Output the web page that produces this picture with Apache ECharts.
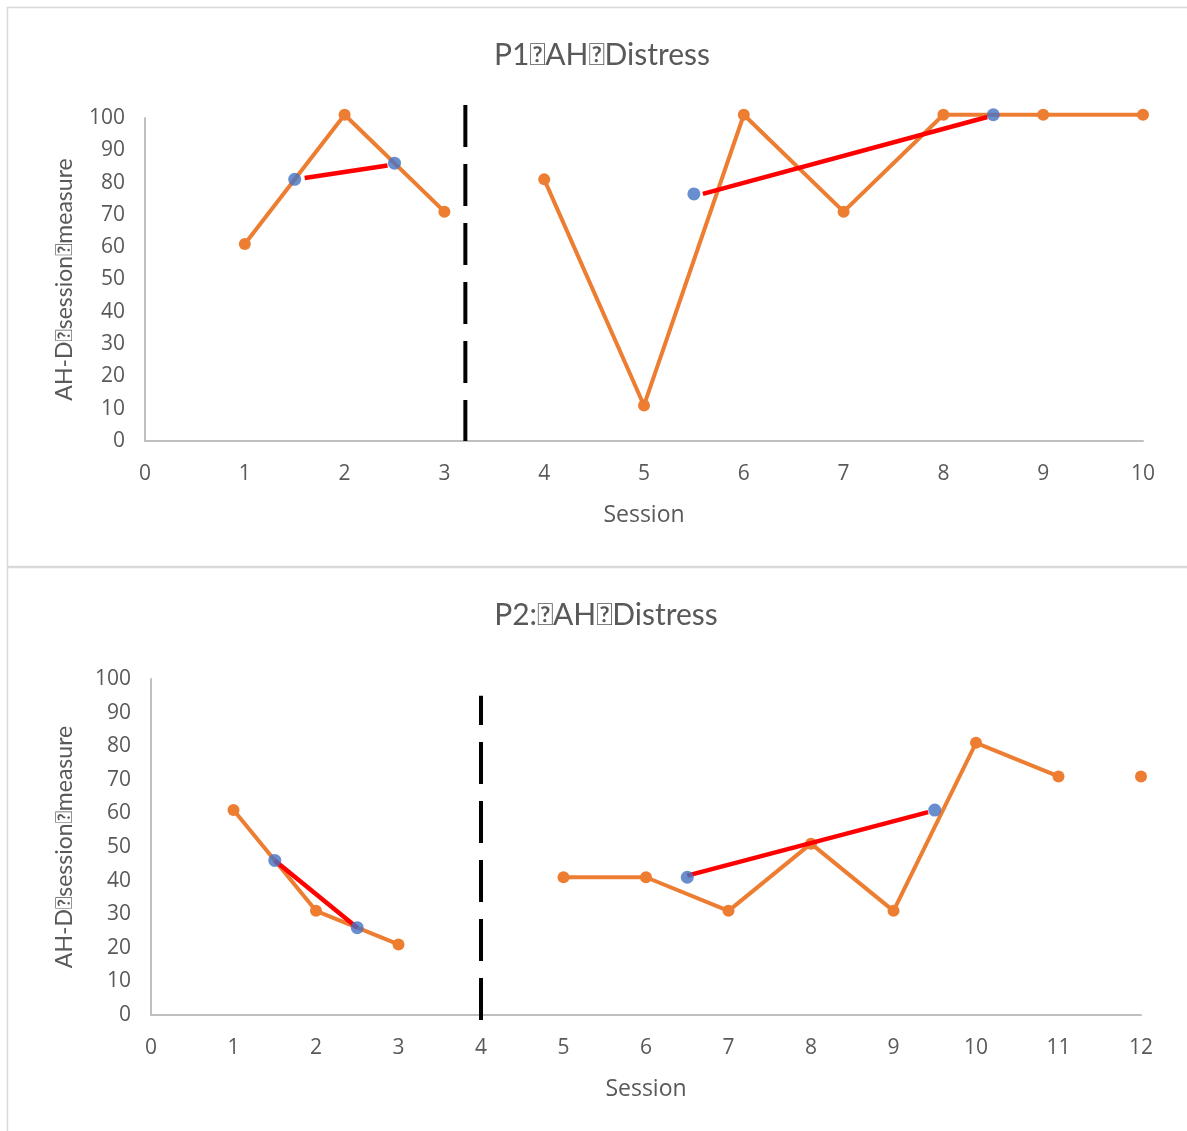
<!DOCTYPE html>
<html>
<head>
<meta charset="utf-8">
<script src="https://cdn.jsdelivr.net/npm/echarts@6/dist/echarts.min.js"></script>
<style>
  html, body { margin: 0; padding: 0; background: #fff; }
  #chart { width: 1187px; height: 1131px; }
</style>
</head>
<body>
<div id="chart"></div>
<script>
// Participant 1
const p1Title = 'P1\uE000AH\uE000Distress';
const p1BaselineSessions = [1, 2, 3];
const p1BaselineScores = [61, 101, 71];
const p1TreatmentSessions = [4, 5, 6, 7, 8, 9, 10];
const p1TreatmentScores = [81, 11, 101, 71, 101, 101, 101];
const p1MidSessions = [1.5, 2.5, 5.5, 8.5];
const p1MidScores = [81, 86, 76.5, 101];
const p1TrendA = [[1.6, 81.4], [2.43, 85.3]];
const p1TrendB = [[5.59, 76.5], [8.44, 100.3]];
const p1PhaseChange = [[3.21, 104], [3.21, 0]];

// Participant 2
const p2Title = 'P2:\uE000AH\uE000Distress';
const p2BaselineSessions = [1, 2, 3];
const p2BaselineScores = [61, 31, 21];
const p2TreatmentSessions = [5, 6, 7, 8, 9, 10, 11];
const p2TreatmentScores = [41, 41, 31, 51, 31, 81, 71];
const p2FollowUpSessions = [12];
const p2FollowUpScores = [71];
const p2MidSessions = [1.5, 2.5, 6.5, 9.5];
const p2MidScores = [46, 26, 41, 61];
const p2TrendA = [[1.5, 46], [2.5, 26]];
const p2TrendB = [[6.5, 41.5], [9.42, 60.4]];
const p2PhaseChange = [[4, -1.5], [4, 95]];

const yTicks = [0, 10, 20, 30, 40, 50, 60, 70, 80, 90, 100];
const yName = 'AH-D\uE000session\uE000measure';
const xName = 'Session';

// Lato draws a visible box for the placeholder glyph; Open Sans for plain labels
const FONT = '"Open Sans", Lato, sans-serif';
const BOX_FONT = 'Lato, "Open Sans", sans-serif';
const TEXT = '#595959';
const AXIS = '#bfbfbf';
const ORANGE = '#ED7D31';
const BLUE = '#4472C4';
const RED = '#FF0000';

const pairs = (xs, ys) => xs.map((x, i) => [x, ys[i]]);

function scoreLine(idx, xs, ys) {
  return {
    type: 'line', xAxisIndex: idx, yAxisIndex: idx, clip: false, z: 3,
    data: pairs(xs, ys),
    symbol: 'circle', symbolSize: 12,
    itemStyle: { color: ORANGE },
    lineStyle: { color: ORANGE, width: 4 },
    emphasis: { disabled: true }, animation: false
  };
}
function trendLine(idx, pts) {
  return {
    type: 'line', xAxisIndex: idx, yAxisIndex: idx, clip: false, z: 4,
    data: pts, symbol: 'none',
    lineStyle: { color: RED, width: 4.5 },
    emphasis: { disabled: true }, animation: false
  };
}
function midPoints(idx, xs, ys) {
  return {
    type: 'scatter', xAxisIndex: idx, yAxisIndex: idx, clip: false, z: 5,
    data: pairs(xs, ys), symbolSize: 13,
    itemStyle: { color: BLUE },
    emphasis: { disabled: true }, animation: false
  };
}
function phaseLine(idx, pts) {
  return {
    type: 'line', xAxisIndex: idx, yAxisIndex: idx, clip: false, z: 2,
    data: pts, symbol: 'none',
    lineStyle: { color: '#000', width: 4, type: [42, 17] },
    emphasis: { disabled: true }, animation: false
  };
}
function xAxis(idx, max) {
  return {
    type: 'value', gridIndex: idx, min: 0, max: max, interval: 1,
    name: xName, nameLocation: 'middle', nameGap: 63,
    nameTextStyle: { color: TEXT, fontSize: 23, fontFamily: FONT },
    axisLine: { show: true, lineStyle: { color: AXIS, width: 2 } },
    axisTick: { show: false }, splitLine: { show: false },
    axisLabel: { color: TEXT, fontSize: 21, fontFamily: FONT, margin: 23 }
  };
}
function yAxis(idx, gap) {
  return {
    type: 'value', gridIndex: idx, min: 0, max: 100, interval: 10,
    name: yName, nameLocation: 'middle', nameGap: gap,
    nameTextStyle: { color: TEXT, fontSize: 23, fontFamily: BOX_FONT },
    axisLine: { show: true, lineStyle: { color: AXIS, width: 2 } },
    axisTick: { show: false }, splitLine: { show: false },
    axisLabel: { color: TEXT, fontSize: 21, fontFamily: FONT, margin: 20,
      formatter: v => (yTicks.includes(v) ? String(v) : '') }
  };
}

const chart = echarts.init(document.getElementById('chart'), null, { renderer: 'canvas' });
chart.setOption({
  backgroundColor: '#fff',
  animation: false,
  graphic: [
    { type: 'rect', shape: { x: 7.5, y: 7.5, width: 1200, height: 559 },
      style: { fill: 'none', stroke: '#d9d9d9', lineWidth: 1.5 }, z: 0 },
    { type: 'rect', shape: { x: 7.5, y: 567.5, width: 1200, height: 600 },
      style: { fill: 'none', stroke: '#d9d9d9', lineWidth: 1.5 }, z: 0 }
  ],
  title: [
    { text: p1Title, left: 597, top: 35, textAlign: 'center',
      textStyle: { color: TEXT, fontSize: 30, fontWeight: 'normal', fontFamily: BOX_FONT } },
    { text: p2Title, left: 601, top: 595, textAlign: 'center',
      textStyle: { color: TEXT, fontSize: 30, fontWeight: 'normal', fontFamily: BOX_FONT } }
  ],
  grid: [
    { left: 145, top: 118, width: 998, height: 323 },
    { left: 151, top: 679, width: 990, height: 336 }
  ],
  xAxis: [xAxis(0, 10), xAxis(1, 12)],
  yAxis: [yAxis(0, 69), yAxis(1, 75)],
  series: [
    phaseLine(0, p1PhaseChange),
    scoreLine(0, p1BaselineSessions, p1BaselineScores),
    scoreLine(0, p1TreatmentSessions, p1TreatmentScores),
    trendLine(0, p1TrendA),
    trendLine(0, p1TrendB),
    midPoints(0, p1MidSessions, p1MidScores),

    phaseLine(1, p2PhaseChange),
    scoreLine(1, p2BaselineSessions, p2BaselineScores),
    scoreLine(1, p2TreatmentSessions, p2TreatmentScores),
    scoreLine(1, p2FollowUpSessions, p2FollowUpScores),
    trendLine(1, p2TrendA),
    trendLine(1, p2TrendB),
    midPoints(1, p2MidSessions, p2MidScores)
  ]
});
</script>
</body>
</html>
